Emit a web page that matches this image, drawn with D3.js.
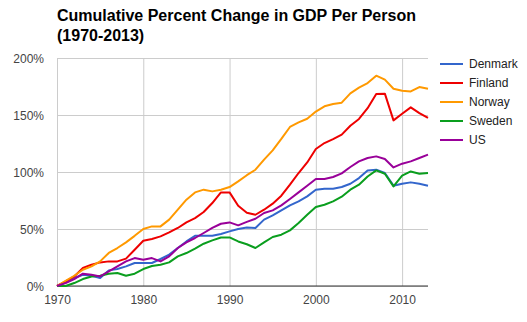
<!DOCTYPE html>
<html>
<head>
<meta charset="utf-8">
<script src="https://cdn.jsdelivr.net/npm/d3@7"></script>
<style>
  body { margin: 0; background: #fff; }
  svg { display: block; font-family: "Liberation Sans", Arial, sans-serif; }
</style>
</head>
<body>
<div id="chart"></div>
<script>
// Years 1970..2013 and cumulative % change per country
const years = d3.range(1970, 2014);

const denmark = [0, 3.2, 7, 9.9, 9, 7, 13.7, 14.9, 17.2, 20.2,
  20.2, 20.2, 23.7, 27.5, 33.3, 39.1, 44.1, 44.1, 44.1, 45.6,
  47.9, 50, 51.3, 50.9, 58.2, 61.9, 66.3, 70.7, 74.2, 78.6,
  84.5, 85.4, 85.4, 86.8, 89.7, 94.7, 101.4, 102, 99.1, 88,
  89.7, 90.9, 89.7, 88];
const finland = [0, 4, 8.4, 15.8, 18.7, 20.7, 21.6, 21.6, 24, 31.8,
  39.7, 41.3, 43.5, 47, 50.9, 55.8, 59.6, 64.9, 72.8, 82.1,
  82.1, 70.4, 64.3, 62.5, 66.9, 72.2, 79.2, 88.9, 99.1, 108.4,
  120.2, 125.4, 128.9, 132.8, 140.6, 146.5, 156, 168.4, 168.7, 145.3,
  151.1, 156.7, 151.7, 147.4];
const norway = [0, 4.6, 9, 14.3, 17.2, 21.6, 29, 33.3, 38.3, 44,
  50, 52.3, 52.3, 58.2, 67, 75.7, 82.1, 84.5, 83, 84.5,
  86.8, 91.8, 97.2, 102, 110.8, 119, 129, 139.5, 143.5, 146.7,
  153, 157.6, 159.6, 160.8, 169, 174, 178, 184.5, 181, 173,
  171.2, 170.7, 174.5, 173];
const sweden = [0, 0, 2.6, 6.1, 8.4, 9, 10.8, 11.4, 9, 10.8,
  14.9, 17.5, 18.7, 20.7, 26, 28.9, 32.7, 37.1, 40, 42.6,
  42.6, 39.1, 36.6, 33.3, 38.3, 43, 45, 48.8, 55.3, 62.5,
  69.3, 71.3, 74.2, 78.3, 84.5, 88.9, 96.1, 101.4, 98.5, 87.4,
  96.8, 100.5, 98.5, 99.1];
const us = [0, 2.6, 6.1, 10.8, 9.9, 8.4, 12.8, 17.2, 21.6, 24.5,
  23, 24.5, 21.6, 26, 33.3, 38.3, 42.1, 46.5, 50.9, 54.6,
  55.8, 53.2, 56.2, 59, 64, 66.3, 70.7, 76.3, 82.1, 88,
  93.9, 93.9, 95.6, 98.8, 104.4, 109.3, 112.3, 113.7, 111.4, 104,
  107.3, 109.3, 112.3, 115.2];

const seriesNames = ["Denmark", "Finland", "Norway", "Sweden", "US"];
const seriesValues = [denmark, finland, norway, sweden, us];
const seriesColors = ["#3366cc", "#ee0000", "#ff9900", "#0a9e1e", "#990099"];

const yTicks = [0, 50, 100, 150, 200];
const xTicks = [1970, 1980, 1990, 2000, 2010];

const width = 527, height = 322;
const margin = { top: 58, right: 99, bottom: 36, left: 57 };
const plotW = width - margin.left - margin.right;
const plotH = height - margin.top - margin.bottom;

const svg = d3.select("#chart")
  .append("svg")
  .attr("width", width)
  .attr("height", height);

// Title, two lines
svg.append("text")
  .attr("x", 57).attr("y", 21)
  .style("font-size", "16px").style("font-weight", "bold").attr("fill", "#000")
  .text("Cumulative Percent Change in GDP Per Person");
svg.append("text")
  .attr("x", 57).attr("y", 41)
  .style("font-size", "16px").style("font-weight", "bold").attr("fill", "#000")
  .text("(1970-2013)");

const g = svg.append("g")
  .attr("transform", `translate(${margin.left},${margin.top})`);

const x = d3.scaleLinear().domain([1970, 2013]).range([0, plotW]);
const y = d3.scaleLinear().domain([0, 200]).range([plotH, 0]);

// Horizontal grid + y labels
const yAxis = g.append("g")
  .call(d3.axisLeft(y).tickValues(yTicks).tickSize(-plotW).tickFormat(d => d + "%"));
yAxis.select(".domain").remove();
yAxis.selectAll(".tick line").attr("stroke", "#cccccc");
yAxis.selectAll(".tick text")
  .attr("x", -13).attr("dy", "0.35em")
  .style("font-size", "12px").attr("fill", "#444");

// Vertical grid + x labels
const xAxis = g.append("g")
  .attr("transform", `translate(0,${plotH})`)
  .call(d3.axisBottom(x).tickValues(xTicks).tickSize(-plotH).tickFormat(d3.format("d")));
xAxis.select(".domain").remove();
xAxis.selectAll(".tick line").attr("stroke", "#cccccc");
xAxis.selectAll(".tick text")
  .attr("y", 9).attr("dy", "0.71em")
  .style("font-size", "12px").attr("fill", "#444");

// Baseline at 0%
g.append("line")
  .attr("x1", 0).attr("x2", plotW)
  .attr("y1", y(0)).attr("y2", y(0))
  .attr("stroke", "#333").attr("stroke-width", 1);

const line = d3.line()
  .x((d, i) => x(years[i]))
  .y(d => y(d));

seriesValues.forEach((vals, i) => {
  g.append("path")
    .datum(vals)
    .attr("fill", "none")
    .attr("stroke", seriesColors[i])
    .attr("stroke-width", 2)
    .attr("stroke-linejoin", "round")
    .attr("d", line);
});

// Legend
const legend = svg.append("g").attr("transform", "translate(440,64)");
seriesNames.forEach((name, i) => {
  const row = legend.append("g").attr("transform", `translate(0,${i * 19})`);
  row.append("line")
    .attr("x1", 0).attr("x2", 23)
    .attr("stroke", seriesColors[i]).attr("stroke-width", 2);
  row.append("text")
    .attr("x", 29).attr("dy", "0.35em")
    .style("font-size", "12px").attr("fill", "#222")
    .text(name);
});
</script>
</body>
</html>
